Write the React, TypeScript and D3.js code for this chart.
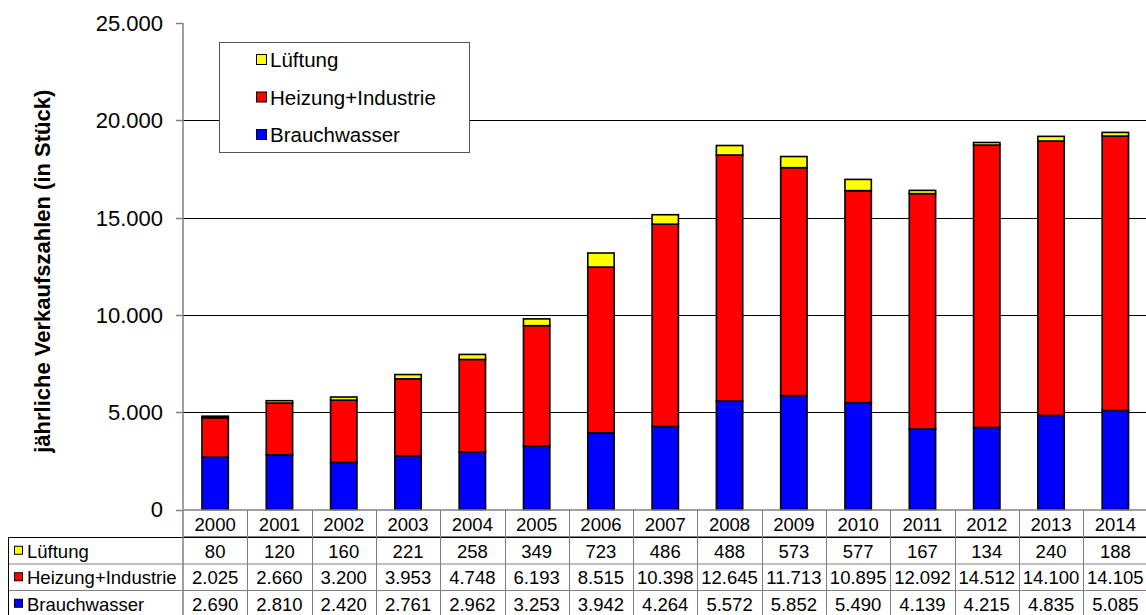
import React from "react";
import * as d3 from "d3";

const years = ["2000","2001","2002","2003","2004","2005","2006","2007","2008","2009","2010","2011","2012","2013","2014"];
const lueftung = [80,120,160,221,258,349,723,486,488,573,577,167,134,240,188];
const heizung = [2025,2660,3200,3953,4748,6193,8515,10398,12645,11713,10895,12092,14512,14100,14105];
const brauchwasser = [2690,2810,2420,2761,2962,3253,3942,4264,5572,5852,5490,4139,4215,4835,5085];
const yTicks = [0,5000,10000,15000,20000,25000];

const seriesDefs = [
  { key: "Brauchwasser", values: brauchwasser, color: "#0000FF" },
  { key: "Heizung+Industrie", values: heizung, color: "#FF0000" },
  { key: "Lüftung", values: lueftung, color: "#FFFF00" },
];
const tableRows = [seriesDefs[2], seriesDefs[1], seriesDefs[0]];

const W = 1146, H = 615;
const FONT = "Arial, 'Liberation Sans', sans-serif";

export default function App() {
  const plotLeft = 183;
  const step = 64.3;
  const x = d3.scaleBand<string>().domain(years).range([plotLeft, plotLeft + step * years.length]).padding(0);
  const y = d3.scaleLinear().domain([0, 25000]).range([509.5, 23]);
  const barW = x.bandwidth() * 0.41;

  const rows = years.map((yr, i) => {
    const o: any = { year: yr };
    seriesDefs.forEach(s => (o[s.key] = s.values[i]));
    return o;
  });
  const stacked = d3.stack().keys(seriesDefs.map(s => s.key))(rows);

  const loc = d3.formatLocale({ decimal: ",", thousands: ".", grouping: [3], currency: ["", "€"] });
  const fmt = loc.format(",d");

  const tTop = 510;
  const rowH = [27, 26.5, 26.5, 26.5];
  const rowY = [tTop];
  rowH.forEach((h, i) => rowY.push(rowY[i] + h));
  const tableLeft = 8;
  const gridColor = "#000";
  const axisColor = "#808080";
  const tableColor = "#808080";

  return (
    <svg width={W} height={H} style={{ position: "absolute", left: 0, top: 0, background: "#fff" }} fontFamily={FONT}>
      <rect x={0} y={0} width={W} height={H} fill="#fff" />
      {yTicks.filter(t => t > 0 && t < 25000).map(t => (
        <line key={t} x1={plotLeft} x2={W} y1={Math.round(y(t)) + 0.5} y2={Math.round(y(t)) + 0.5} stroke={gridColor} strokeWidth={1} />
      ))}
      <line x1={plotLeft} x2={plotLeft} y1={y(25000)} y2={y(0)} stroke={axisColor} strokeWidth={1.5} />
      {yTicks.map(t => (
        <g key={t}>
          <line x1={plotLeft - 7} x2={plotLeft} y1={Math.round(y(t)) + 0.5} y2={Math.round(y(t)) + 0.5} stroke={axisColor} strokeWidth={1.5} />
          <text x={163} y={y(t)} dy="0.36em" textAnchor="end" fontSize={22} fill="#000">{fmt(t)}</text>
        </g>
      ))}
      <text transform={`translate(50,${y(12500) + 5}) rotate(-90)`} textAnchor="middle" fontSize={22} fontWeight="bold" fill="#000">
        jährliche Verkaufszahlen (in Stück)
      </text>
      {stacked.map((layer, si) => (
        <g key={layer.key}>
          {layer.map((d, i) => (
            <rect key={i}
              x={(x(years[i]) as number) + (x.bandwidth() - barW) / 2}
              y={y(d[1])}
              width={barW}
              height={Math.max(0, y(d[0]) - y(d[1]))}
              fill={seriesDefs[si].color}
              stroke="#000" strokeWidth={1.6} />
          ))}
        </g>
      ))}
      <line x1={plotLeft} x2={W} y1={tTop} y2={tTop} stroke={axisColor} strokeWidth={1.5} />
      <rect x={219.5} y={42.5} width={250} height={110} fill="#fff" stroke="#555" strokeWidth={1} />
      {[seriesDefs[2], seriesDefs[1], seriesDefs[0]].map((s, i) => (
        <g key={s.key}>
          <rect x={256.5} y={54.5 + i * 37.5} width={10} height={10} fill={s.color} stroke="#000" strokeWidth={1} />
          <text x={270} y={60 + i * 37.5} dy="0.36em" fontSize={20.5} fill="#000">{s.key}</text>
        </g>
      ))}
      <line x1={plotLeft} x2={W} y1={rowY[1]} y2={rowY[1]} stroke="#000" strokeWidth={1} />
      {[1, 2, 3, 4].map(r => (
        <line key={r} x1={tableLeft} x2={W} y1={rowY[r] + 0.5} y2={rowY[r] + 0.5} stroke={r === 1 ? "#000" : tableColor} strokeWidth={1} />
      ))}
      <line x1={tableLeft + 0.5} x2={tableLeft + 0.5} y1={rowY[1]} y2={H} stroke="#000" strokeWidth={1} />
      <line x1={plotLeft} x2={plotLeft} y1={tTop} y2={H} stroke={tableColor} strokeWidth={1.5} />
      {years.map((yr) => (
        <line key={yr} x1={Math.round((x(yr) as number) + x.bandwidth()) + 0.5} x2={Math.round((x(yr) as number) + x.bandwidth()) + 0.5} y1={tTop} y2={H} stroke={tableColor} strokeWidth={1} />
      ))}
      {years.map(yr => (
        <text key={yr} x={(x(yr) as number) + x.bandwidth() / 2} y={(rowY[0] + rowY[1]) / 2 + 1} dy="0.36em" textAnchor="middle" fontSize={18.5} fill="#000">{yr}</text>
      ))}
      {tableRows.map((s, r) => (
        <g key={s.key}>
          <rect x={14.5} y={(rowY[r + 1] + rowY[r + 2]) / 2 - 4} width={8} height={8} fill={s.color} stroke="#000" strokeWidth={1} />
          <text x={27} y={(rowY[r + 1] + rowY[r + 2]) / 2 + 1} dy="0.36em" fontSize={18.5} fill="#000">{s.key}</text>
          {s.values.map((v, i) => (
            <text key={i} x={(x(years[i]) as number) + x.bandwidth() / 2} y={(rowY[r + 1] + rowY[r + 2]) / 2 + 1} dy="0.36em" textAnchor="middle" fontSize={18.5} fill="#000">{fmt(v)}</text>
          ))}
        </g>
      ))}
    </svg>
  );
}
